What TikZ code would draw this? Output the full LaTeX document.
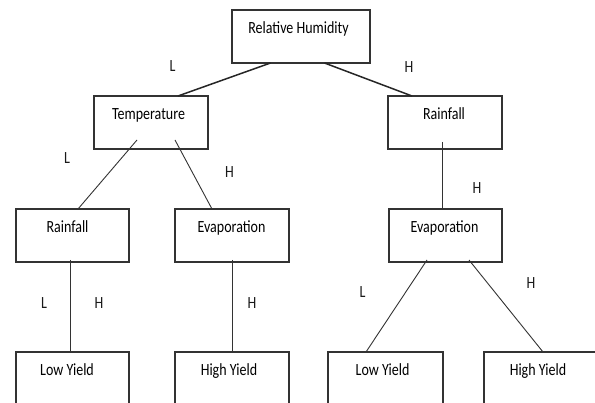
\documentclass[tikz,border=0pt]{standalone}
\usepackage{fontspec}
\setmainfont{Carlito}
\usetikzlibrary{calc}
\newcommand{\tx}[1]{\scalebox{1}[1.22]{#1}}
\tikzset{
  box/.style={draw=black!80, line width=1.2pt, rectangle, inner sep=0pt, outer sep=0pt, minimum width=114pt, minimum height=53pt},
  txt/.style={anchor=base, inner sep=0pt, text=black, font=\fontsize{14}{16}\selectfont},
  lbl/.style={inner sep=0pt, text=black!90, font=\fontsize{14}{16}\selectfont},
  edge/.style={draw=black!80, line width=0.9pt},
  edgeb/.style={draw=black!85, line width=1.5pt}
}
\begin{document}
\begin{tikzpicture}[x=1pt,y=-1pt]
\clip (0,0) rectangle (595,403);
\useasboundingbox (0,0) rectangle (595,403);
% boxes
\node[box, minimum width=138pt] (rh) at (301,36.5) {};
\node[box] (temp) at (151,122.5) {};
\node[box] (rainR) at (445,122.5) {};
\node[box, minimum width=113pt] (rainL) at (72.5,235.5) {};
\node[box] (evapM) at (232,235.5) {};
\node[box, minimum width=113pt] (evapR) at (445.5,235.5) {};
\node[box, minimum width=113pt] (lowL) at (72.5,378.5) {};
\node[box] (highM) at (232,378.5) {};
\node[box, minimum width=115pt] (lowR) at (385.5,378.5) {};
\node[box] (highR) at (541,378.5) {};
% texts
\node[txt] (trh) at ($(rh.north)+(-2.5,24)$) {\tx{Relative Humidity}};
\node[txt] (ttemp) at ($(temp.north)+(-2.5,24)$) {\tx{Temperature}};
\node[txt] (trainR) at ($(rainR.north)+(-1,24)$) {\tx{Rainfall}};
\node[txt] (trainL) at ($(rainL.north)+(-5,24)$) {\tx{Rainfall}};
\node[txt] (tevapM) at ($(evapM.north)+(-0.5,24)$) {\tx{Evaporation}};
\node[txt] (tevapR) at ($(evapR.north)+(-1,24)$) {\tx{Evaporation}};
\node[txt] (tlowL) at ($(lowL.north)+(-5.5,24)$) {\tx{Low Yield}};
\node[txt] (thighM) at ($(highM.north)+(-3,24)$) {\tx{High Yield}};
\node[txt] (tlowR) at ($(lowR.north)+(-3,24)$) {\tx{Low Yield}};
\node[txt] (thighR) at ($(highR.north)+(-3,24)$) {\tx{High Yield}};
% connectors
\draw[edgeb] ($(rh.south)+(-30.5,0)$) -- ($(temp.north)+(27,0)$);
\draw[edgeb] ($(rh.south)+(23.5,0)$) -- ($(rainR.north)+(-33,0)$);
\draw[edge] ($(temp.south)+(-14,-9)$) -- ($(rainL.north)+(5.5,0)$);
\draw[edge] ($(temp.south)+(24,-9)$) -- ($(evapM.north)+(-20,0)$);
\draw[edge] ($(rainL.south)+(-2.5,-2)$) -- ($(lowL.north)+(-2.5,0)$);
\draw[edge] ($(evapM.south)+(0,-2)$) -- (highM.north);
\draw[edge] ($(rainR.south)+(-3,-7)$) -- ($(evapR.north)+(-3.5,0)$);
\draw[edge] ($(evapR.south)+(-18.5,-2)$) -- ($(lowR.north)+(-19.5,0)$);
\draw[edge] ($(evapR.south)+(23.5,-2)$) -- ($(highR.north)+(2,0)$);
% branch labels
\node[lbl] (l1) at (172.5,66.5) {\tx{L}};
\node[lbl] (h1) at (409,67) {\tx{H}};
\node[lbl] (l2) at (67,158) {\tx{L}};
\node[lbl] (h2) at (229.5,172) {\tx{H}};
\node[lbl] (h3) at (477,188) {\tx{H}};
\node[lbl] (l3) at (44,303) {\tx{L}};
\node[lbl] (h4) at (99,303) {\tx{H}};
\node[lbl] (h5) at (252,303) {\tx{H}};
\node[lbl] (l4) at (362.5,292) {\tx{L}};
\node[lbl] (h6) at (531,283) {\tx{H}};
\end{tikzpicture}
\end{document}
